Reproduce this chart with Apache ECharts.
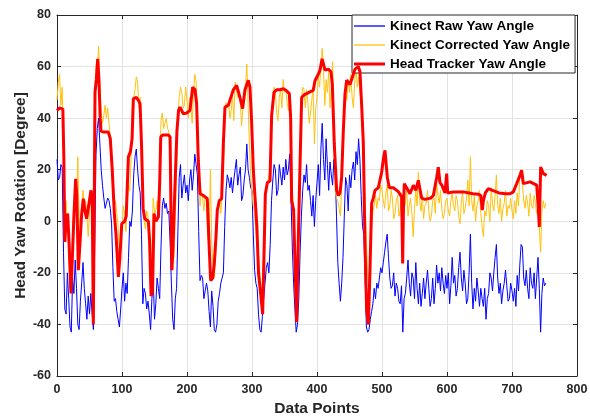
<!DOCTYPE html>
<html>
<head>
<meta charset="utf-8">
<script src="https://cdn.jsdelivr.net/npm/echarts@6/dist/echarts.min.js"></script>
<style>
html, body { margin: 0; padding: 0; background: #ffffff; }
#chart { width: 590px; height: 416px; }
</style>
</head>
<body>
<div id="chart"></div>
<script>
// Kinect yaw samples are stored every SAMPLE_STEP data points.
const SAMPLE_STEP = 2;

// Kinect raw yaw angle [deg], data points 0, 2, 4, ... 752 (one row = 100 points)
const kinectRawYaw = [
  24, 16, 17, 22, 21, -12, -34, -36, -20, -30, -41, -43, -22, -28, -15, -26, -40, -42, -31, -24, -16, -26, -32, -38, -29,
  -36, -28, -36, -42, -10, 26, 36, 40, 30, 20, 14, 9, 5, 7, 9, 8, 5, -1, -18, -31, -30, -35, -38, -41, -34,
  -26, -20, -31, -24, -28, -14, 0, -2, 4, 18, 25, 28, 20, 14, 11, -5, -32, -26, -28, -34, -31, -36, -42, -30, -22,
  -38, -32, -22, -26, -30, -10, 6, 9, 5, 7, 3, 4, -8, -24, -38, -42, -30, -26, -4, 17, 22, 9, 14, 18, 11,
  14, 8, 16, 20, 12, 18, 26, 22, 18, -4, -23, -21, -22, -30, -27, -24, -27, -35, -41, -27, -33, -42, -43, -40, -31,
  -28, -24, -22, -20, -2, 12, 18, 16, 13, 17, 11, 16, 20, 24, 14, 18, 21, 8, 10, 16, 20, 30, 20, 17, 13,
  12, -5, -19, -24, -26, -36, -42, -43, -37, -30, -24, -18, -16, -20, -9, 8, 16, 22, 20, 10, 12, 22, 18, 14, 21,
  16, 24, 18, 20, 26, 9, -10, -24, -34, -43, -40, -30, -12, 2, 12, 18, 15, 22, 12, 14, 8, 2, 10, -2, 8,
  15, 22, 10, 28, 38, 24, 16, 32, 22, 12, 23, 18, 14, 24, 19, 2, -16, -24, -31, -24, -14, 2, 17, 14, 4,
  18, 13, 20, 23, 16, 27, 22, 32, 24, 10, -2, -5, -22, -41, -43, -42, -38, -35, -32, -26, -30, -24, -26, -22, -18,
  -20, -16, -12, -8, -5, -14, -22, -26, -25, -20, -29, -24, -26, -31, -32, -25, -43, -30, -28, -22, -15, -24, -29, -20, -22,
  -30, -16, -26, -32, -24, -33, -28, -22, -30, -24, -19, -26, -33, -30, -22, -32, -26, -17, -24, -20, -27, -18, -24, -28, -21,
  -26, -20, -32, -25, -14, -24, -21, -29, -26, -18, -12, -22, -27, -19, -24, -32, -30, -20, -5, -24, -34, -26, -31, -22, -27,
  -33, -26, -30, -33, -26, -38, -30, -28, -20, -22, -27, -20, -14, -9, -22, -28, -24, -32, -27, -24, -19, -25, -31, -30, -24,
  -27, -31, -26, -33, -21, -27, -17, -9, -10, -22, -25, -19, -26, -30, -18, -24, -26, -20, -30, -22, -14, -26, -43, -28, -22,
  -25, -24
];

// Kinect corrected yaw angle [deg], same data points
const kinectCorrectedYaw = [
  47, 54, 57, 45, 52, 30, 4, 8, -1, -10, -26, -20, -10, 4, 15, 8, 25, 2, -5, 4, 12, 6, 8, 2, -6,
  4, 10, 2, -38, 30, 60, 58, 68, 52, 42, 38, 41, 45, 40, 44, 38, 32, 20, 10, 5, 8, 3, -2, -15, -8,
  -2, 6, 3, -4, 8, 14, 12, 24, 45, 48, 51, 56, 54, 44, 48, 30, 8, 0, -3, 4, 2, -10, -28, -12, 9,
  3, 4, 8, 2, 20, 39, 42, 36, 38, 40, 36, 35, 22, 4, -10, -14, 2, 20, 40, 48, 52, 50, 44, 45, 52,
  47, 40, 48, 44, 38, 50, 57, 54, 43, 24, 6, 12, 9, 4, 10, 8, -6, -10, 20, -8, -19, -22, -14, -4, 6,
  8, 3, 10, 20, 38, 46, 44, 46, 40, 43, 49, 39, 54, 51, 48, 50, 46, 37, 44, 47, 52, 61, 45, 30, 18,
  11, 6, 3, -4, -9, -14, -20, -26, -31, -8, 9, 14, 15, 18, 20, 36, 48, 52, 50, 42, 39, 48, 51, 44, 55,
  50, 51, 46, 43, 50, 30, 12, 4, -10, -35, -22, -7, 20, 47, 52, 51, 44, 51, 46, 38, 42, 47, 52, 30, 44,
  48, 56, 52, 60, 67, 58, 45, 55, 50, 58, 44, 52, 62, 40, 12, 9, 8, 5, 2, 14, 30, 42, 51, 47, 55,
  50, 57, 48, 44, 54, 60, 52, 56, 50, 47, 38, 26, 8, -8, -20, -28, -14, -2, 4, 6, 10, 5, 9, 8, 14,
  12, 8, 5, 11, 14, 4, 6, 12, 9, 1, 3, 8, 10, 2, 4, 11, 0, 5, 7, 12, 2, 6, 9, 3, -6,
  5, 12, 6, 19, 8, 4, 10, 1, 6, 7, 12, 4, 0, 2, 8, 9, 3, 15, 10, 7, 12, 5, 1, 3, 8,
  9, 4, 2, 8, 11, 6, 4, 10, 8, 2, -1, 7, 12, 3, 5, 9, 16, 6, 25, 8, 4, 10, 0, 6, 8,
  12, 3, -2, -6, 4, 2, 8, 6, 0, 13, 7, 4, 10, 18, 6, 3, 9, 0, 5, 7, 12, 2, 6, 5, 9,
  4, 1, 8, 3, 11, 6, 18, 19, 15, 8, 5, 10, 7, 2, 11, 6, 5, 10, 7, 3, 6, -2, -12, 4, 8,
  5, 7
];

// Head tracker yaw angle [deg] at the listed data points
const headTrackerIdx = [
  0, 4, 9, 10.5, 12, 14, 16.4, 18.5, 21.5, 23.5, 26, 28.7, 30.5, 32.8, 35, 38, 40.5, 43, 45.6, 48,
  52.3, 54.3, 55.9, 57.5, 58.5, 60.5, 62.6, 64.5, 66.5, 67.7, 72, 79, 82, 85, 88.2, 91, 94.4, 96.5, 99.6, 104,
  106.5, 109.8, 113, 115.5, 117.5, 122, 125, 127.8, 130, 132.5, 135, 140.6, 142.5, 144.7, 147, 149.3, 152, 156, 158, 159.6,
  163, 171.4, 174, 175.5, 176.8, 178.5, 181, 184.5, 187, 189.2, 194.3, 199.5, 204.6, 208.7, 212.3, 214.8, 217.4, 220, 222.5, 225.1,
  231.2, 234.3, 236.4, 239.5, 242, 244.6, 246.6, 249.7, 253.3, 255.9, 258.4, 263.6, 266.1, 271.3, 276.4, 281.5, 285.6, 289.2, 294.3, 296.9,
  299.5, 302, 305, 307.5, 310, 313.3, 316.4, 318.4, 320.5, 323.6, 327.7, 330.2, 333.8, 337.9, 343, 348.2, 352.3, 357.4, 359.5, 361,
  364, 366, 368.7, 371, 373.8, 376.4, 380, 384, 389.2, 394.3, 396.9, 402, 404.6, 407.8, 410, 412.3, 417.4, 421.5, 423.6, 426.6,
  430.2, 432.8, 435.4, 437.9, 440.5, 443, 445.6, 448.2, 450.7, 453.3, 455.9, 458.4, 463.6, 466.1, 468.7, 471.3, 473.8, 476.4, 479, 481.5,
  484.1, 486.6, 489.2, 494.3, 499.5, 502, 504.6, 506.5, 508.2, 511.3, 517.4, 525.1, 530.2, 531.8, 533, 534.3, 538, 543, 548.2, 552,
  555.9, 558, 561, 566, 571.3, 575, 579, 584.1, 586.6, 589.2, 592, 596.9, 599.5, 601, 610, 625, 640, 648, 652, 654.3,
  656, 659, 663.6, 670, 680, 690, 697, 702, 707.2, 712.3, 714.8, 717.4, 727.7, 738, 740.5, 742, 744.1, 745.6, 748.2, 753.3
];
const headTrackerYaw = [
  43, 44, 43.5, 25, -8, 0, 3, -8, -28, -15, 2, 16.5, 10, -19, -10, 3, 8.8, 4, 1, 1.7,
  12, 6, -40, 15, 50, 55, 63, 55, 40, 35, 34.6, 34.6, 32, 20, 3, -6, -21.6, -15, -1, 0,
  2, 25, 27, 32, 47.6, 48, 47, 45.6, 30, 5, 1, 0, -8, -29, -27, 3, 0, 1.7, 15, 32.7,
  33.5, 33.5, 32.7, 0, -19, -10, 10, 35, 43, 44.3, 41.7, 42, 43, 52, 51, 45.6, 23.6, 10.7, 11.4, 10,
  8.8, -11, -23, -22, -16.4, -6, 4.3, 8, 8.8, 30, 44.3, 45, 47, 51, 52.7, 48, 43.7, 51, 54.7, 52,
  38, 20, 8, -2, -20, -28, -36, -14, 10.5, 15, 15.6, 41, 50, 51, 51, 51.4, 50.8, 49.5, 40, 8,
  4.5, -15, -39, -10, 21, 48, 49, 49.5, 50.2, 50.8, 54.5, 57, 58.6, 63, 61, 58.6, 59, 58, 53, 30,
  12, 10, 11, 17, 35, 49, 54.7, 54, 53, 55, 57, 59, 60, 58, 45, 30, -8.7, -34.5, -40, -19,
  7, 9, 12, 13, 19, 24, 27.5, 27, 17, 13, 13, 11.5, 9.4, -16.4, 5, 14.6, 13, 10.7, 14, 12,
  15.9, 13, 9, 8.5, 8.8, 9, 10, 17, 21, 15, 14, 11, 18.5, 11, 11.4, 11.4, 10.7, 10.5, 10, 4.3,
  8, 11, 12.7, 12, 11, 10.7, 10.7, 11.4, 14.6, 17.8, 19.8, 14.6, 15.3, 14, 5, -2.2, 21, 21, 18.5, 17.8
];

// Axis ranges and legend names
const xRange = { min: 0, max: 800, step: 100 };
const yRange = { min: -60, max: 80, step: 20 };
const seriesNames = ['Kinect Raw Yaw Angle', 'Kinect Corrected Yaw Angle', 'Head Tracker Yaw Angle'];
const seriesColors = ['#0000ff', '#ffc20e', '#ff0000'];
const seriesWidths = [1, 1, 3];

const sampled = vals => vals.map((v, k) => [k * SAMPLE_STEP, v]);
const trackerData = headTrackerIdx.map((x, k) => [x, headTrackerYaw[k]]);

const FONT = '"Liberation Sans", Arial, Helvetica, sans-serif';
const INK = '#262626';

const chart = echarts.init(document.getElementById('chart'), null, { renderer: 'canvas' });

// plain line swatches for the legend, as thick as each series line
const legendItems = seriesNames.map((name, k) => ({
  name: name,
  icon: 'path://M0,0H31V' + (seriesWidths[k] === 1 ? 1.3 : seriesWidths[k]) + 'H0Z'
}));

const boxAxis = (pos) => ({
  position: pos,
  axisLine: { show: true, onZero: false, lineStyle: { color: INK, width: 1 } },
  axisTick: { show: true, inside: true, length: 4, lineStyle: { color: INK } },
  axisLabel: { show: false },
  splitLine: { show: false }
});

const lineSeries = (k, data) => ({
  name: seriesNames[k], type: 'line', data: data,
  showSymbol: false, symbol: 'none',
  lineStyle: { color: seriesColors[k], width: seriesWidths[k] },
  itemStyle: { color: seriesColors[k] },
  z: 2 + k
});

chart.setOption({
  animation: false,
  backgroundColor: '#ffffff',
  grid: { left: 57, right: 13, top: 15, bottom: 40, containLabel: false, outerBoundsMode: 'none' },
  legend: {
    data: legendItems,
    orient: 'vertical',
    left: 352,
    top: 15,
    itemWidth: 31,
    itemHeight: 14,
    itemGap: 5,
    symbolKeepAspect: true,
    padding: [4, 5, 2, 2],
    backgroundColor: '#ffffff',
    borderColor: INK,
    borderWidth: 1,
    borderRadius: 0,
    textStyle: { fontFamily: FONT, fontWeight: 'bold', fontSize: 13.5, color: '#000000' }
  },
  xAxis: [
    {
      type: 'value',
      min: xRange.min, max: xRange.max, interval: xRange.step,
      name: 'Data Points',
      nameLocation: 'middle',
      nameGap: 25,
      nameMoveOverlap: false,
      nameTextStyle: { fontFamily: FONT, fontWeight: 'bold', fontSize: 15.5, color: INK },
      axisLine: { show: true, onZero: false, lineStyle: { color: INK, width: 1 } },
      axisTick: { show: true, inside: true, length: 4, lineStyle: { color: INK } },
      axisLabel: { fontFamily: FONT, fontWeight: 'bold', fontSize: 12.5, color: INK, margin: 7 },
      splitLine: { show: true, lineStyle: { color: '#e3e3e3', width: 1 } }
    },
    Object.assign({ type: 'value', min: xRange.min, max: xRange.max, interval: xRange.step }, boxAxis('top'))
  ],
  yAxis: [
    {
      type: 'value',
      min: yRange.min, max: yRange.max, interval: yRange.step,
      name: 'Head Yaw Rotation [Degree]',
      nameLocation: 'middle',
      nameRotate: 90,
      nameGap: 28,
      nameMoveOverlap: false,
      nameTextStyle: { fontFamily: FONT, fontWeight: 'bold', fontSize: 15.5, color: INK },
      axisLine: { show: true, onZero: false, lineStyle: { color: INK, width: 1 } },
      axisTick: { show: true, inside: true, length: 4, lineStyle: { color: INK } },
      axisLabel: { fontFamily: FONT, fontWeight: 'bold', fontSize: 12.5, color: INK, margin: 6 },
      splitLine: { show: true, lineStyle: { color: '#e3e3e3', width: 1 } }
    },
    Object.assign({ type: 'value', min: yRange.min, max: yRange.max, interval: yRange.step }, boxAxis('right'))
  ],
  series: [
    lineSeries(0, sampled(kinectRawYaw)),
    lineSeries(1, sampled(kinectCorrectedYaw)),
    lineSeries(2, trackerData)
  ]
});
</script>
</body>
</html>
